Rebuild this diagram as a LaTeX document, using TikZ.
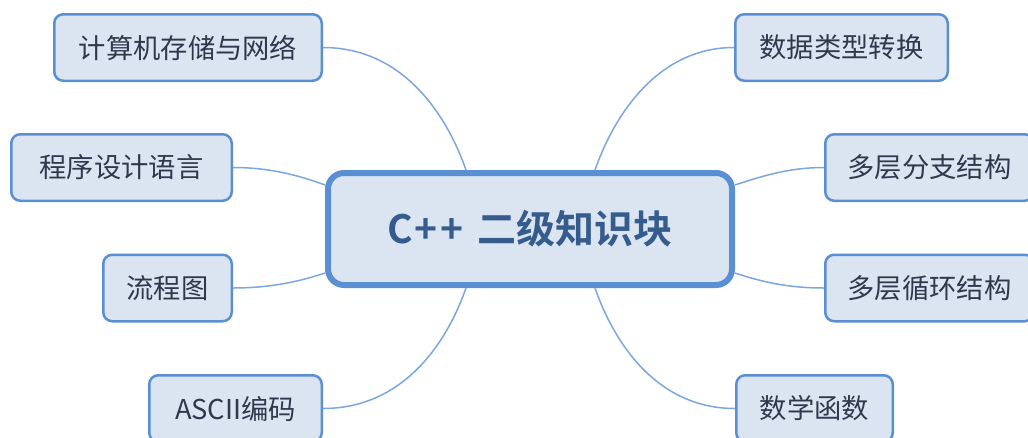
\documentclass[tikz,border=0pt]{standalone}
\usepackage{fontspec}
\newfontfamily\cjk{Noto Sans CJK SC}
\newfontfamily\cjkb{Noto Sans CJK SC Bold}
\usetikzlibrary{calc}
\definecolor{bordc}{HTML}{5A8FD3}
\definecolor{fillc}{HTML}{DBE5F2}
\definecolor{linec}{HTML}{7BA7DE}
\definecolor{leaftext}{HTML}{2E394B}
\definecolor{centtext}{HTML}{365C8E}
\tikzset{
  leaf/.style={draw=bordc, fill=fillc, line width=2.5pt, rounded corners=9pt,
    inner sep=0pt, minimum height=66.5pt, font=\cjk\fontsize{27.3}{27.3}\selectfont,
    text=leaftext},
  centre/.style={draw=bordc, fill=fillc, line width=6pt, rounded corners=16pt,
    inner sep=0pt, minimum width=404pt, minimum height=112pt,
    font=\cjkb\fontsize{39}{39}\selectfont, text=centtext},
  conn/.style={draw=linec, line width=1.5pt}
}
\begin{document}
\begin{tikzpicture}[x=1pt,y=-1pt]
\useasboundingbox (0,0) rectangle (1028,437);
\node[centre] (c) at (530,229) {C\kern2pt+\kern3pt+\hspace{14pt}二级知识块};
\node[leaf, minimum width=267.5pt] (tl) at (188,47.5) {计算机存储与网络};
\node[leaf, minimum width=220.5pt] (ml) at (121.5,167.5) {程序设计语言};
\node[leaf, minimum width=128.5pt] (ll) at (167.5,288) {流程图};
\node[leaf, minimum width=172.5pt] (bl) at (235.5,408.5) {ASCII编码};
\node[leaf, minimum width=212.5pt] (tr) at (841.5,47.5) {数据类型转换};
\node[leaf, minimum width=208.5pt] (mr) at (929.5,167.5) {多层分支结构};
\node[leaf, minimum width=208.5pt] (lr) at (929.5,288) {多层循环结构};
\node[leaf, minimum width=156.5pt] (br) at (814.5,408.5) {数学函数};
\coordinate (ctl) at ($(c.north)+(-64,0)$);
\coordinate (ctr) at ($(c.north)+(65,0)$);
\coordinate (cbl) at ($(c.south)+(-64,0)$);
\coordinate (cbr) at ($(c.south)+(65,0)$);
\coordinate (cml) at ($(c.west)+(0,-44)$);
\coordinate (cll) at ($(c.west)+(0,44)$);
\coordinate (cmr) at ($(c.east)+(0,-44)$);
\coordinate (clr) at ($(c.east)+(0,44)$);
\path[conn] (tl.east) .. controls ($(tl.east)+(77,0)$) and ($(ctl)+(-21,-60)$) .. (ctl);
\path[conn] (bl.east) .. controls ($(bl.east)+(77,0)$) and ($(cbl)+(-21,60)$) .. (cbl);
\path[conn] (tr.west) .. controls ($(tr.west)+(-73,0)$) and ($(ctr)+(21,-60)$) .. (ctr);
\path[conn] (br.west) .. controls ($(br.west)+(-75,0)$) and ($(cbr)+(21,60)$) .. (cbr);
\path[conn] (ml.east) .. controls ($(ml.east)+(36,0)$) and ($(cml)+(-27,-10)$) .. (cml);
\path[conn] (ll.east) .. controls ($(ll.east)+(36,0)$) and ($(cll)+(-27,9)$) .. (cll);
\path[conn] (mr.west) .. controls ($(mr.west)+(-33,0)$) and ($(cmr)+(30,-10)$) .. (cmr);
\path[conn] (lr.west) .. controls ($(lr.west)+(-33,0)$) and ($(clr)+(30,10)$) .. (clr);
\end{tikzpicture}
\end{document}
